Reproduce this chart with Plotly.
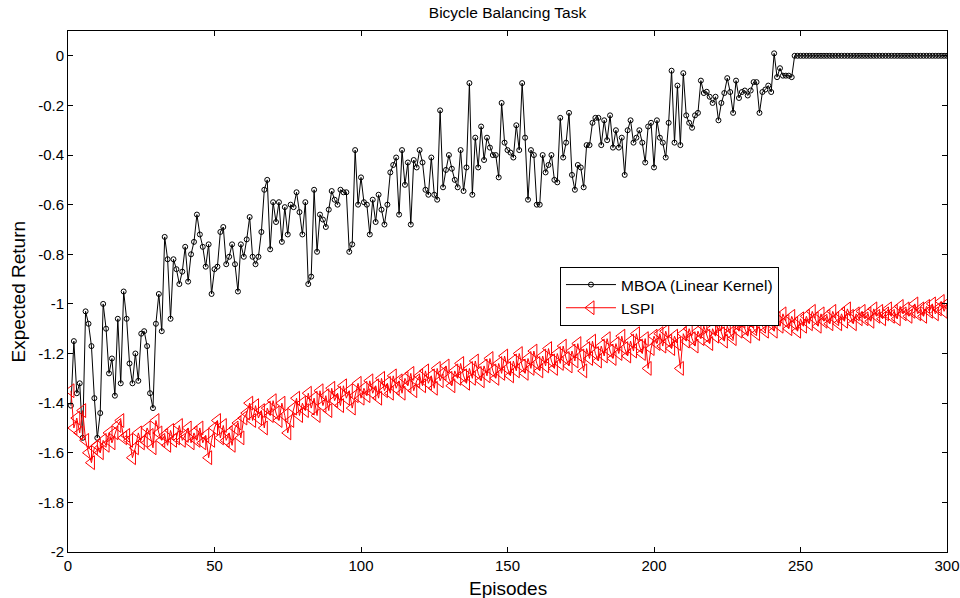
import plotly.graph_objects as go

# ---------------- data ----------------
episodes = list(range(1, 301))

mboa = [
    -1.41, -1.15, -1.36, -1.32, -1.54, -1.03, -1.08, -1.17, -1.38, -1.54,
    -1.44, -1.00, -1.10, -1.28, -1.22, -1.37, -1.06, -1.32, -0.95, -1.06,
    -1.24, -1.32, -1.20, -1.31, -1.12, -1.11, -1.17, -1.36, -1.42, -1.08,
    -0.96, -1.11, -0.73, -0.82, -1.06, -0.82, -0.86, -0.92, -0.87, -0.77,
    -0.91, -0.80, -0.75, -0.64, -0.72, -0.77, -0.85, -0.76, -0.96, -0.86,
    -0.85, -0.71, -0.69, -0.84, -0.81, -0.76, -0.84, -0.95, -0.76, -0.81,
    -0.74, -0.65, -0.81, -0.84, -0.81, -0.71, -0.54, -0.50, -0.78, -0.59,
    -0.67, -0.59, -0.75, -0.61, -0.72, -0.60, -0.61, -0.55, -0.63, -0.72,
    -0.59, -0.92, -0.89, -0.54, -0.79, -0.64, -0.66, -0.69, -0.62, -0.545,
    -0.58, -0.60, -0.54, -0.55, -0.55, -0.79, -0.76, -0.38, -0.60, -0.49,
    -0.59, -0.60, -0.72, -0.58, -0.67, -0.56, -0.62, -0.68, -0.60, -0.47,
    -0.44, -0.41, -0.64, -0.38, -0.52, -0.43, -0.68, -0.42, -0.45, -0.38,
    -0.43, -0.54, -0.56, -0.41, -0.56, -0.58, -0.22, -0.53, -0.46, -0.40,
    -0.455, -0.50, -0.53, -0.38, -0.545, -0.45, -0.11, -0.56, -0.33, -0.45,
    -0.285, -0.42, -0.33, -0.37, -0.40, -0.40, -0.49, -0.19, -0.35, -0.38,
    -0.39, -0.41, -0.28, -0.38, -0.11, -0.33, -0.58, -0.38, -0.40, -0.60,
    -0.60, -0.40, -0.47, -0.44, -0.40, -0.50, -0.51, -0.25, -0.41, -0.35,
    -0.23, -0.48, -0.54, -0.44, -0.45, -0.53, -0.36, -0.36, -0.27, -0.25,
    -0.25, -0.36, -0.26, -0.34, -0.24, -0.37, -0.30, -0.37, -0.33, -0.48,
    -0.30, -0.26, -0.35, -0.33, -0.30, -0.35, -0.43, -0.285, -0.27, -0.45,
    -0.26, -0.33, -0.35, -0.41, -0.27, -0.06, -0.35, -0.12, -0.36, -0.07,
    -0.24, -0.27, -0.29, -0.24, -0.23, -0.10, -0.15, -0.145, -0.165, -0.19,
    -0.165, -0.26, -0.19, -0.15, -0.09, -0.146, -0.23, -0.10, -0.17, -0.146,
    -0.14, -0.16, -0.14, -0.106, -0.106, -0.23, -0.146, -0.136, -0.12, -0.146,
    0.01, -0.086, -0.05, -0.08, -0.08, -0.08, -0.086, 0.0, 0.0, 0.0,
    0.0, 0.0, 0.0, 0.0, 0.0, 0.0, 0.0, 0.0, 0.0, 0.0,
    0.0, 0.0, 0.0, 0.0, 0.0, 0.0, 0.0, 0.0, 0.0, 0.0,
    0.0, 0.0, 0.0, 0.0, 0.0, 0.0, 0.0, 0.0, 0.0, 0.0,
    0.0, 0.0, 0.0, 0.0, 0.0, 0.0, 0.0, 0.0, 0.0, 0.0,
    0.0, 0.0, 0.0, 0.0, 0.0, 0.0, 0.0, 0.0, 0.0, 0.0,
]

lspi = [
    -1.35, -1.50, -1.46, -1.52, -1.43, -1.55, -1.60, -1.64, -1.58, -1.57,
    -1.60, -1.55, -1.57, -1.52, -1.56, -1.52, -1.49, -1.47, -1.54, -1.53,
    -1.55, -1.62, -1.58, -1.52, -1.56, -1.55, -1.50, -1.53, -1.58, -1.47,
    -1.52, -1.55, -1.53, -1.57, -1.51, -1.55, -1.54, -1.49, -1.55, -1.53,
    -1.50, -1.56, -1.52, -1.55, -1.50, -1.56, -1.53, -1.62, -1.55, -1.50,
    -1.47, -1.54, -1.49, -1.55, -1.52, -1.57, -1.50, -1.48, -1.54, -1.46,
    -1.44, -1.40, -1.47, -1.41, -1.46, -1.43, -1.50, -1.42, -1.45, -1.39,
    -1.44, -1.47, -1.40, -1.45, -1.52, -1.47, -1.42, -1.38, -1.45, -1.40,
    -1.43, -1.36, -1.42, -1.38, -1.45, -1.35, -1.41, -1.37, -1.43, -1.34,
    -1.39, -1.36, -1.41, -1.33, -1.38, -1.35, -1.42, -1.37, -1.32, -1.38,
    -1.34, -1.37, -1.31, -1.36, -1.33, -1.38, -1.30, -1.35, -1.32, -1.36,
    -1.29, -1.34, -1.31, -1.36, -1.30, -1.33, -1.28, -1.35, -1.31, -1.29,
    -1.33, -1.27, -1.32, -1.29, -1.34, -1.26, -1.31, -1.28, -1.25, -1.30,
    -1.33, -1.27, -1.30, -1.24, -1.29, -1.32, -1.26, -1.30, -1.23, -1.28,
    -1.31, -1.25, -1.29, -1.22, -1.27, -1.30, -1.24, -1.28, -1.21, -1.26,
    -1.29, -1.23, -1.27, -1.20, -1.25, -1.28, -1.22, -1.26, -1.19, -1.24,
    -1.27, -1.21, -1.25, -1.18, -1.23, -1.26, -1.20, -1.24, -1.17, -1.22,
    -1.25, -1.19, -1.23, -1.16, -1.21, -1.27, -1.18, -1.22, -1.15, -1.20,
    -1.23, -1.17, -1.21, -1.14, -1.19, -1.22, -1.16, -1.20, -1.13, -1.18,
    -1.21, -1.15, -1.19, -1.12, -1.17, -1.20, -1.14, -1.26, -1.18, -1.13,
    -1.16, -1.12, -1.17, -1.11, -1.15, -1.18, -1.13, -1.16, -1.26, -1.12,
    -1.15, -1.10, -1.14, -1.17, -1.11, -1.14, -1.09, -1.13, -1.16, -1.10,
    -1.13, -1.08, -1.12, -1.15, -1.09, -1.12, -1.14, -1.08, -1.11, -1.07,
    -1.10, -1.13, -1.07, -1.10, -1.12, -1.06, -1.09, -1.11, -1.05, -1.08,
    -1.11, -1.06, -1.09, -1.04, -1.07, -1.10, -1.05, -1.08, -1.11, -1.06,
    -1.09, -1.05, -1.08, -1.03, -1.06, -1.09, -1.04, -1.07, -1.05, -1.08,
    -1.03, -1.06, -1.08, -1.04, -1.07, -1.02, -1.05, -1.08, -1.04, -1.06,
    -1.03, -1.06, -1.04, -1.07, -1.02, -1.05, -1.03, -1.06, -1.04, -1.02,
    -1.05, -1.03, -1.06, -1.01, -1.04, -1.02, -1.05, -1.03, -1.00, -1.04,
    -1.02, -1.05, -1.01, -1.03, -1.00, -1.04, -1.02, -0.99, -1.03, -1.00,
]

x_ticks = [0, 50, 100, 150, 200, 250, 300]
y_ticks = [0, -0.2, -0.4, -0.6, -0.8, -1, -1.2, -1.4, -1.6, -1.8, -2]
y_tick_text = ["0", "-0.2", "-0.4", "-0.6", "-0.8", "-1", "-1.2", "-1.4", "-1.6", "-1.8", "-2"]

FONT = "Liberation Sans, Arial, sans-serif"

fig = go.Figure()
fig.add_trace(go.Scatter(
    x=episodes, y=mboa, name="MBOA (Linear Kernel)", mode="lines+markers",
    line=dict(color="black", width=1),
    marker=dict(symbol="circle-open", size=5, color="black", line=dict(width=1)),
))
fig.add_trace(go.Scatter(
    x=episodes, y=lspi, name="LSPI", mode="lines+markers",
    line=dict(color="#ff0000", width=1),
    marker=dict(symbol="triangle-left-open", size=12, color="#ff0000", line=dict(width=1)),
))

fig.update_layout(
    width=960, height=598,
    margin=dict(l=68, r=13, t=31, b=46, autoexpand=False),
    paper_bgcolor="white", plot_bgcolor="white",
    font=dict(family=FONT, color="black", size=15),
    showlegend=True,
    legend=dict(
        x=0.5597, y=0.547, xanchor="left", yanchor="top",
        bgcolor="white", bordercolor="black", borderwidth=1,
        font=dict(family=FONT, size=15.5, color="black"),
        tracegroupgap=0, itemwidth=50,
    ),
    title=dict(text="Bicycle Balancing Task", x=0.5, xref="paper",
               y=1 - 13 / 598, yref="container", yanchor="middle", xanchor="center",
               font=dict(family=FONT, size=15.5, color="black")),
    xaxis=dict(
        range=[0, 300], tickvals=x_ticks, ticks="inside", ticklen=5, tickcolor="black",
        showline=True, linecolor="black", linewidth=1, mirror="ticks",
        showgrid=False, zeroline=False, tickfont=dict(size=15), automargin=False,
    ),
    yaxis=dict(
        range=[-2, 0.1], tickvals=y_ticks, ticktext=y_tick_text, ticks="inside",
        ticklen=5, tickcolor="black",
        showline=True, linecolor="black", linewidth=1, mirror="ticks",
        showgrid=False, zeroline=False, tickfont=dict(size=15), automargin=False,
    ),
    annotations=[
        dict(text="Episodes", xref="paper", yref="paper", x=0.5, y=-36 / 521,
             xanchor="center", yanchor="middle", showarrow=False,
             font=dict(family=FONT, size=19, color="black")),
        dict(text="Expected Return", xref="paper", yref="paper", x=-50 / 879, y=0.5,
             xanchor="center", yanchor="middle", textangle=-90, showarrow=False,
             font=dict(family=FONT, size=19, color="black")),
    ],
)

fig.write_html("out.html")
